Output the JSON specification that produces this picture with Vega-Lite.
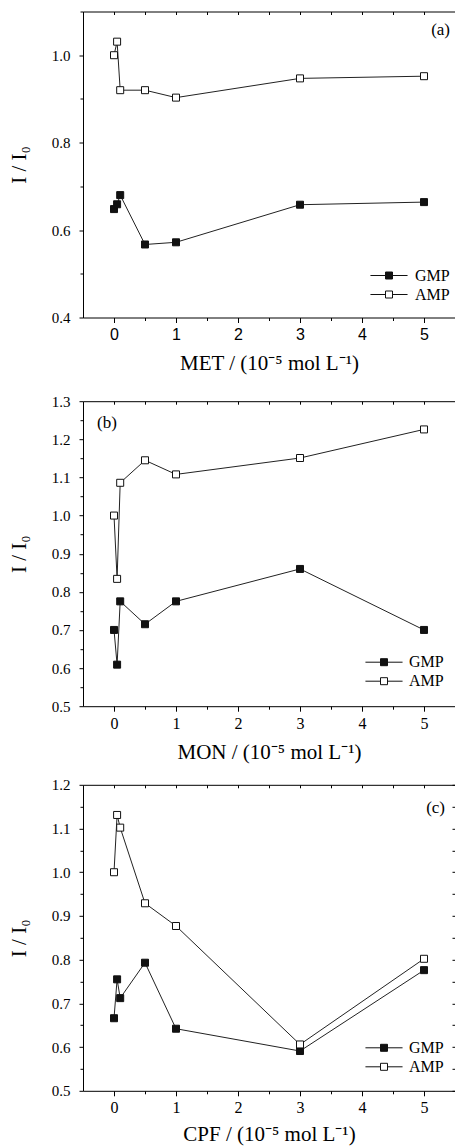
{
  "$schema": "https://vega.github.io/schema/vega-lite/v6.json",
  "padding": {"left": 8, "top": 4.5, "right": 0, "bottom": 0},
  "background": "white",
  "spacing": 15.3,
  "datasets": {
    "a": [
      {"x": 0, "y": 0.648, "series": "GMP"}, {"x": 0.05, "y": 0.659, "series": "GMP"}, {"x": 0.1, "y": 0.68, "series": "GMP"},
      {"x": 0.5, "y": 0.567, "series": "GMP"}, {"x": 1, "y": 0.572, "series": "GMP"}, {"x": 3, "y": 0.658, "series": "GMP"}, {"x": 5, "y": 0.664, "series": "GMP"},
      {"x": 0, "y": 1.0, "series": "AMP"}, {"x": 0.05, "y": 1.031, "series": "AMP"}, {"x": 0.1, "y": 0.92, "series": "AMP"},
      {"x": 0.5, "y": 0.92, "series": "AMP"}, {"x": 1, "y": 0.903, "series": "AMP"}, {"x": 3, "y": 0.947, "series": "AMP"}, {"x": 5, "y": 0.952, "series": "AMP"}
    ],
    "b": [
      {"x": 0, "y": 0.7, "series": "GMP"}, {"x": 0.05, "y": 0.609, "series": "GMP"}, {"x": 0.1, "y": 0.775, "series": "GMP"},
      {"x": 0.5, "y": 0.715, "series": "GMP"}, {"x": 1, "y": 0.775, "series": "GMP"}, {"x": 3, "y": 0.86, "series": "GMP"}, {"x": 5, "y": 0.7, "series": "GMP"},
      {"x": 0, "y": 1.0, "series": "AMP"}, {"x": 0.05, "y": 0.834, "series": "AMP"}, {"x": 0.1, "y": 1.086, "series": "AMP"},
      {"x": 0.5, "y": 1.145, "series": "AMP"}, {"x": 1, "y": 1.108, "series": "AMP"}, {"x": 3, "y": 1.151, "series": "AMP"}, {"x": 5, "y": 1.226, "series": "AMP"}
    ],
    "c": [
      {"x": 0, "y": 0.666, "series": "GMP"}, {"x": 0.05, "y": 0.755, "series": "GMP"}, {"x": 0.1, "y": 0.712, "series": "GMP"},
      {"x": 0.5, "y": 0.793, "series": "GMP"}, {"x": 1, "y": 0.642, "series": "GMP"}, {"x": 3, "y": 0.591, "series": "GMP"}, {"x": 5, "y": 0.776, "series": "GMP"},
      {"x": 0, "y": 1.0, "series": "AMP"}, {"x": 0.05, "y": 1.131, "series": "AMP"}, {"x": 0.1, "y": 1.102, "series": "AMP"},
      {"x": 0.5, "y": 0.929, "series": "AMP"}, {"x": 1, "y": 0.877, "series": "AMP"}, {"x": 3, "y": 0.606, "series": "AMP"}, {"x": 5, "y": 0.802, "series": "AMP"}
    ]
  },
  "vconcat": [
    {
      "spacing": 20.7,
      "vconcat": [
        {
          "data": {"name": "a"},
          "width": 372,
          "height": 306,
          "title": {"text": "(a)", "anchor": "end", "frame": "group", "orient": "top", "offset": -34.5, "dx": -5, "fontSize": 17, "font": "Liberation Serif", "fontWeight": "normal", "color": "black"},
          "layer": [
            {
              "mark": {"type": "line", "color": "#222", "strokeWidth": 1},
              "encoding": {
                "x": {"field": "x", "type": "quantitative", "scale": {"domain": [-0.5, 5.5], "nice": false, "zero": false},
                  "axis": {"title": "MET / (10⁻⁵ mol L⁻¹)", "values": [0, 0.5, 1, 1.5, 2, 2.5, 3, 3.5, 4, 4.5, 5], "labelExpr": "datum.value % 1 == 0 ? format(datum.value, 'd') : ''", "labelFont": "Liberation Sans", "labelFontSize": 16, "tickSize": {"condition": {"test": "datum.value % 1 == 0", "value": 5}, "value": 3}, "labelPadding": 4, "titlePadding": 10}},
                "y": {"field": "y", "type": "quantitative", "scale": {"domain": [0.4, 1.1], "nice": false, "zero": false},
                  "axis": {"title": "I / I₀", "values": [0.4, 0.5, 0.6, 0.7, 0.8, 0.9, 1.0, 1.1], "labelExpr": "(round(datum.value * 10) % 2 == 0 && datum.value < 1.05) ? format(datum.value, '.1f') : ''", "tickSize": {"condition": {"test": "round(datum.value * 10) % 2 == 0", "value": 4}, "value": 3}, "labelPadding": 9, "titlePadding": 22}},
                "detail": {"field": "series"}
              }
            },
            {
              "mark": {"type": "point", "shape": "square", "size": 49, "filled": true, "stroke": "#111", "strokeWidth": 1, "opacity": 1},
              "encoding": {
                "x": {"field": "x", "type": "quantitative", "axis": {"orient": "top", "labels": false, "title": null, "values": [0, 0.5, 1, 1.5, 2, 2.5, 3, 3.5, 4, 4.5, 5], "tickSize": -3, "minExtent": 0, "maxExtent": 0}},
                "y": {"field": "y", "type": "quantitative", "axis": null},
                "fill": {"field": "series", "type": "nominal", "scale": {"domain": ["GMP", "AMP"], "range": ["#111", "#fff"]},
                  "legend": {"title": null, "orient": "none", "legendX": 298, "legendY": 256, "symbolType": "M-5.3,0H-1M1,0H5.3M-1,-1H1V1H-1Z", "symbolSize": 49, "symbolStrokeColor": "#111", "symbolStrokeWidth": 1, "labelOffset": 18, "labelFont": "Liberation Serif", "labelFontSize": 16, "labelColor": "black", "rowPadding": 3, "padding": 0}}
              }
            }
          ],
          "resolve": {"axis": {"x": "independent", "y": "independent"}}
        },
        {
          "data": {"name": "b"},
          "width": 372,
          "height": 305,
          "title": {"text": "(b)", "anchor": "start", "frame": "group", "orient": "top", "offset": -37.5, "dx": 14, "fontSize": 17, "font": "Liberation Serif", "fontWeight": "normal", "color": "black"},
          "layer": [
            {
              "mark": {"type": "line", "color": "#222", "strokeWidth": 1},
              "encoding": {
                "x": {"field": "x", "type": "quantitative", "scale": {"domain": [-0.5, 5.5], "nice": false, "zero": false},
                  "axis": {"title": "MON / (10⁻⁵ mol L⁻¹)", "values": [0, 0.5, 1, 1.5, 2, 2.5, 3, 3.5, 4, 4.5, 5], "labelExpr": "datum.value % 1 == 0 ? format(datum.value, 'd') : ''", "labelFontSize": 16, "tickSize": {"condition": {"test": "datum.value % 1 == 0", "value": 5}, "value": 3}, "labelPadding": 4, "titlePadding": 10}},
                "y": {"field": "y", "type": "quantitative", "scale": {"domain": [0.5, 1.3], "nice": false, "zero": false},
                  "axis": {"title": "I / I₀", "values": [0.5, 0.55, 0.6, 0.65, 0.7, 0.75, 0.8, 0.85, 0.9, 0.95, 1.0, 1.05, 1.1, 1.15, 1.2, 1.25, 1.3], "labelExpr": "round(datum.value * 100) % 10 == 0 ? format(datum.value, '.1f') : ''", "tickSize": {"condition": {"test": "round(datum.value * 100) % 10 == 0", "value": 4}, "value": 3}, "labelPadding": 9, "titlePadding": 22}},
                "detail": {"field": "series"}
              }
            },
            {
              "mark": {"type": "point", "shape": "square", "size": 49, "filled": true, "stroke": "#111", "strokeWidth": 1, "opacity": 1},
              "encoding": {
                "x": {"field": "x", "type": "quantitative", "axis": {"orient": "top", "labels": false, "title": null, "values": [0, 0.5, 1, 1.5, 2, 2.5, 3, 3.5, 4, 4.5, 5], "tickSize": -3, "minExtent": 0, "maxExtent": 0}},
                "y": {"field": "y", "type": "quantitative", "axis": null},
                "fill": {"field": "series", "type": "nominal", "scale": {"domain": ["GMP", "AMP"], "range": ["#111", "#fff"]},
                  "legend": {"title": null, "orient": "none", "legendX": 293, "legendY": 253, "symbolType": "M-5.3,0H-1M1,0H5.3M-1,-1H1V1H-1Z", "symbolSize": 49, "symbolStrokeColor": "#111", "symbolStrokeWidth": 1, "labelOffset": 17, "labelFont": "Liberation Serif", "labelFontSize": 16, "labelColor": "black", "rowPadding": 3, "padding": 0}}
              }
            }
          ],
          "resolve": {"axis": {"x": "independent", "y": "independent"}}
        }
      ],
      "resolve": {"scale": {"fill": "independent"}, "legend": {"fill": "independent"}}
    },
    {
      "data": {"name": "c"},
      "width": 372,
      "height": 306,
      "title": {"text": "(c)", "anchor": "end", "frame": "group", "orient": "top", "offset": -39, "dx": -10, "fontSize": 17, "font": "Liberation Serif", "fontWeight": "normal", "color": "black"},
      "layer": [
        {
          "mark": {"type": "line", "color": "#222", "strokeWidth": 1},
          "encoding": {
            "x": {"field": "x", "type": "quantitative", "scale": {"domain": [-0.5, 5.5], "nice": false, "zero": false},
              "axis": {"title": "CPF / (10⁻⁵ mol L⁻¹)", "values": [0, 0.5, 1, 1.5, 2, 2.5, 3, 3.5, 4, 4.5, 5], "labelExpr": "datum.value % 1 == 0 ? format(datum.value, 'd') : ''", "labelFontSize": 16, "tickSize": {"condition": {"test": "datum.value % 1 == 0", "value": 5}, "value": 3}, "labelPadding": 4, "titlePadding": 8}},
            "y": {"field": "y", "type": "quantitative", "scale": {"domain": [0.5, 1.2], "nice": false, "zero": false},
              "axis": {"title": "I / I₀", "values": [0.5, 0.55, 0.6, 0.65, 0.7, 0.75, 0.8, 0.85, 0.9, 0.95, 1.0, 1.05, 1.1, 1.15, 1.2], "labelExpr": "round(datum.value * 100) % 10 == 0 ? format(datum.value, '.1f') : ''", "tickSize": {"condition": {"test": "round(datum.value * 100) % 10 == 0", "value": 4}, "value": 3}, "labelPadding": 9, "titlePadding": 22}},
            "detail": {"field": "series"}
          }
        },
        {
          "mark": {"type": "point", "shape": "square", "size": 49, "filled": true, "stroke": "#111", "strokeWidth": 1, "opacity": 1},
          "encoding": {
            "x": {"field": "x", "type": "quantitative", "axis": {"orient": "top", "labels": false, "title": null, "values": [0, 0.5, 1, 1.5, 2, 2.5, 3, 3.5, 4, 4.5, 5], "tickSize": -3, "minExtent": 0, "maxExtent": 0}},
            "y": {"field": "y", "type": "quantitative", "axis": {"orient": "right", "labels": false, "title": null, "values": [0.5, 0.55, 0.6, 0.65, 0.7, 0.75, 0.8, 0.85, 0.9, 0.95, 1.0, 1.05, 1.1, 1.15, 1.2], "tickSize": -3, "minExtent": 0, "maxExtent": 0}},
            "fill": {"field": "series", "type": "nominal", "scale": {"domain": ["GMP", "AMP"], "range": ["#111", "#fff"]},
              "legend": {"title": null, "orient": "none", "legendX": 293, "legendY": 255, "symbolType": "M-5.3,0H-1M1,0H5.3M-1,-1H1V1H-1Z", "symbolSize": 49, "symbolStrokeColor": "#111", "symbolStrokeWidth": 1, "labelOffset": 17, "labelFont": "Liberation Serif", "labelFontSize": 16, "labelColor": "black", "rowPadding": 3, "padding": 0}}
          }
        }
      ],
      "resolve": {"axis": {"x": "independent", "y": "independent"}}
    }
  ],
  "resolve": {"scale": {"fill": "independent"}, "legend": {"fill": "independent"}},
  "config": {
    "view": {"stroke": null},
    "axis": {"grid": false, "domainColor": "black", "domainWidth": 1, "tickColor": "black", "tickWidth": 1, "labelColor": "black", "titleColor": "black", "labelFont": "Liberation Serif", "titleFont": "Liberation Serif", "titleFontWeight": "normal", "labelFontSize": 15, "titleFontSize": 21, "labelOverlap": false, "labelFlush": false, "labelBound": false}
  }
}
